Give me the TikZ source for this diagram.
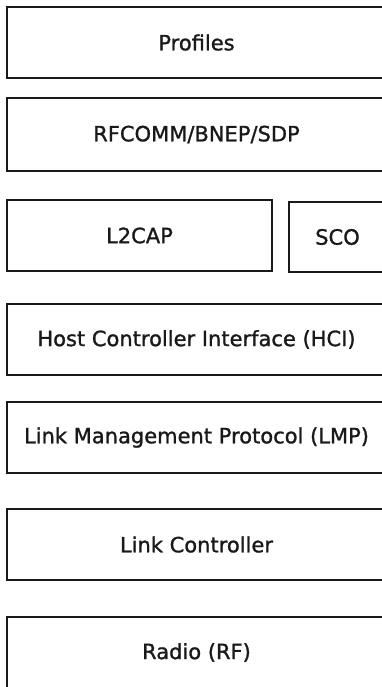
\documentclass[tikz,border=0pt]{standalone}
\usepackage{fontspec}
\setmainfont[FakeBold=1.2]{DejaVu Sans}
\usepackage{tikz}
\tikzset{
  layer/.style={
    draw=black!90,
    line width=2.4pt,
    inner sep=0pt,
    font=\fontsize{21}{25}\selectfont,
    text=black!90
  },
  full layer/.style={
    layer,
    minimum width=379pt,
    minimum height=71pt
  }
}
\begin{document}
\begin{tikzpicture}[x=1pt, y=-1pt]
    % picture frame (1 unit = 1 px of the reference)
    \useasboundingbox (0,0) rectangle (382,687);
    \clip (0,0) rectangle (382,687);

    % full-width layers run off the right edge
    \node[full layer] (profiles) at (196.5, 42.5) {Profiles};
    \node[full layer, minimum height=73pt] (rfcomm) at (196.5, 134.5) {RFCOMM/BNEP/SDP};

    % split layer
    \node[layer, minimum width=265pt, minimum height=71pt] (l2cap) at (139.5, 235.5) {L2CAP};
    \node[layer, minimum width=97pt, minimum height=70pt] (sco) at (337.5, 237) {SCO};

    \node[full layer] (hci) at (196.5, 339.5) {Host Controller Interface (HCI)};
    \node[full layer] (lmp) at (196.5, 437.5) {Link Management Protocol (LMP)};
    \node[full layer] (lc) at (196.5, 544.5) {Link Controller};

    % bottom layer is cut by the lower edge
    \node[full layer] (radio) at (196.5, 652.5) {Radio (RF)};

\end{tikzpicture}
\end{document}
